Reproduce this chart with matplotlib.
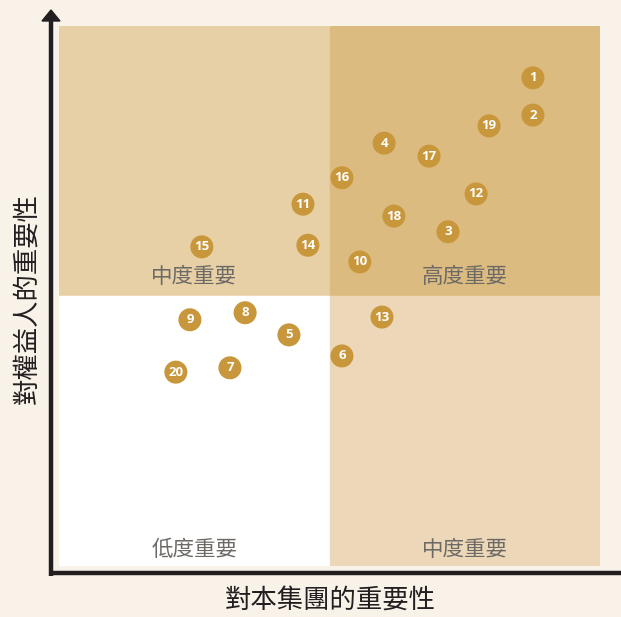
import matplotlib
matplotlib.use('Agg')
import matplotlib.pyplot as plt
from matplotlib.patches import Rectangle

plt.rcParams['font.family'] = ['Noto Sans CJK TC', 'DejaVu Sans']

# issue positions, 0-10 on both axes
labels = [1, 2, 3, 4, 5, 6, 7, 8, 9, 10, 11, 12, 13, 14, 15, 16, 17, 18, 19, 20]
group_imp = [8.76, 8.76, 7.19, 6.01, 4.25, 5.23, 3.16, 3.44, 2.42, 5.56,
             4.51, 7.71, 5.97, 4.60, 2.64, 5.23, 6.84, 6.19, 7.95, 2.16]
stake_imp = [9.04, 8.35, 6.19, 7.83, 4.28, 3.89, 3.67, 4.69, 4.56, 5.63,
             6.70, 6.89, 4.61, 5.94, 5.91, 7.19, 7.59, 6.48, 8.15, 3.59]

quad_names = ['中度重要', '高度重要', '低度重要', '中度重要']
x_title = '對本集團的重要性'
y_title = '對權益人的重要性'

BG = '#f8f2e8'
W, H = 621, 617

fig = plt.figure(figsize=(W / 100, H / 100), dpi=100)
fig.patch.set_facecolor(BG)

# plot area in pixels: x 59-600, y 26-566
ax = fig.add_axes([59 / W, (H - 566) / H, 541 / W, 540 / H])
ax.set_xlim(0, 10)
ax.set_ylim(0, 10)
ax.axis('off')

ax.add_patch(Rectangle((0, 5), 5, 5, color='#e8d0a6', zorder=0))
ax.add_patch(Rectangle((5, 5), 5, 5, color='#dcbb80', zorder=0))
ax.add_patch(Rectangle((0, 0), 5, 5, color='#ffffff', zorder=0))
ax.add_patch(Rectangle((5, 0), 5, 5, color='#ecd8b8', zorder=0))

qpos = [(2.5, 5.35), (7.5, 5.35), (2.5, 0.3), (7.5, 0.3)]
for (qx, qy), name in zip(qpos, quad_names):
    ax.text(qx, qy, name, ha='center', va='center', fontsize=15.5,
            color='#6d6a66', zorder=1)

ax.scatter(group_imp, stake_imp, s=275, color='#c9973b', edgecolors='none',
           zorder=2, clip_on=False)
for lb, gx, sy in zip(labels, group_imp, stake_imp):
    ax.text(gx, sy, str(lb), ha='center', va='center', fontsize=9.5,
            fontweight='bold', color='white', zorder=3,
            family=['Open Sans', 'DejaVu Sans'])

# axis arrows in figure pixels
def px(x, y):
    return x / W, (H - y) / H

fig.add_artist(plt.Line2D([51 / W, 51 / W], [px(0, 576)[1], px(0, 20)[1]],
                          color='#231f20', lw=3.2, solid_capstyle='butt'))
fig.add_artist(plt.Line2D([49 / W, 1.0], [px(0, 573)[1], px(0, 573)[1]],
                          color='#231f20', lw=3.2, solid_capstyle='butt'))
fig.add_artist(plt.Polygon([px(42, 21), px(60, 21), px(51, 10)],
                           closed=True, color='#231f20'))

fig.text(330 / W, px(0, 600)[1], x_title, ha='center', va='center',
         fontsize=19, color='#231f20')
fig.text(27 / W, px(0, 298)[1], y_title, ha='center', va='center',
         fontsize=19, color='#231f20', rotation=90)

fig.savefig('out.png', dpi=100, facecolor=BG)
